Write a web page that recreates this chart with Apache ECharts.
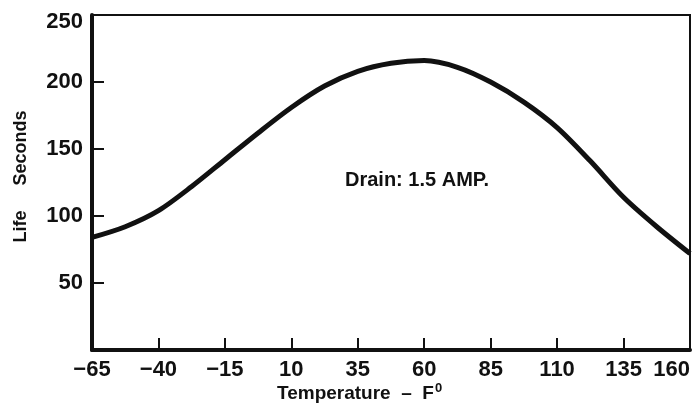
<!DOCTYPE html>
<html>
<head>
<meta charset="utf-8">
<script src="https://cdn.jsdelivr.net/npm/echarts@6/dist/echarts.min.js"></script>
<style>
html,body{margin:0;padding:0;background:#fff;}
#chart{width:693px;height:405px;}
</style>
</head>
<body>
<div id="chart"></div>
<script>
// Data
var temperatures = [-65, -52.5, -40, -27.5, -15, -2.5, 10, 22.5, 35, 47.5, 60, 72.5, 85, 97.5, 110, 122.5, 135, 147.5, 160];
var lifeSeconds  = [84, 92, 104, 122, 142, 162, 181, 197, 208, 214, 216, 211, 200, 185, 166, 141, 114, 92, 72];
var xTickLabels = ['\u221265', '\u221240', '\u221215', '10', '35', '60', '85', '110', '135', '160'];
var yTickLabels = ['0', '50', '100', '150', '200', '250'];
var xMin = -65, xMax = 160, xStep = 25;
var yMin = 0, yMax = 250, yStep = 50;

var FONT = "'Liberation Sans', Arial, sans-serif";
var INK = '#111';

var chart = echarts.init(document.getElementById('chart'), null, {renderer: 'canvas'});
chart.setOption({
  backgroundColor: '#fff',
  animation: false,
  title: {
    text: 'Temperature  \u2013  F{sup|0}',
    left: 277,
    top: 382,
    padding: 0,
    textStyle: {
      fontFamily: FONT, fontSize: 19, fontWeight: 'bold', color: INK,
      rich: {
        sup: {fontFamily: FONT, fontSize: 13, fontWeight: 'bold', color: INK, verticalAlign: 'top', padding: [0, 0, 10, 1]}
      }
    }
  },
  grid: {
    left: 92, right: 1, top: 15, bottom: 55,
    show: true, borderColor: INK, borderWidth: 2, backgroundColor: 'transparent'
  },
  xAxis: {
    type: 'value',
    min: 0, max: xMax - xMin, interval: xStep,
    axisLine: {show: true, onZero: false, lineStyle: {color: INK, width: 4}},
    axisTick: {show: true, inside: true, length: 12, lineStyle: {color: INK, width: 2}},
    splitLine: {show: false},
    axisLabel: {
      margin: 9,
      fontFamily: FONT, fontSize: 22, fontWeight: 'bold', color: INK,
      alignMaxLabel: 'right',
      formatter: function (v) { return xTickLabels[Math.round(v / xStep)]; }
    }
  },
  yAxis: {
    type: 'value',
    min: yMin, max: yMax, interval: yStep,
    name: 'Life     Seconds',
    nameLocation: 'middle',
    nameGap: 62,
    nameRotate: 90,
    nameTextStyle: {fontFamily: FONT, fontSize: 18, fontWeight: 'bold', color: INK, padding: [0, 0, 0, 12]},
    axisLine: {show: true, onZero: false, lineStyle: {color: INK, width: 4}},
    axisTick: {show: true, inside: true, length: 12, lineStyle: {color: INK, width: 2}},
    splitLine: {show: false},
    axisLabel: {
      margin: 9,
      showMinLabel: false,
      fontFamily: FONT, fontSize: 22, fontWeight: 'bold', color: INK,
      formatter: function (v) {
        var s = yTickLabels[Math.round(v / yStep)];
        return v === yMax ? '{top|' + s + '}' : s;
      },
      rich: {
        top: {fontFamily: FONT, fontSize: 22, fontWeight: 'bold', color: INK, padding: [14, 0, 0, 0]}
      }
    }
  },
  graphic: [{
    type: 'text',
    left: 345,
    top: 170,
    style: {text: 'Drain: 1.5 AMP.', fontFamily: FONT, fontSize: 20, fontWeight: 'bold', fill: INK}
  }],
  series: [{
    type: 'line',
    smooth: 0.3,
    showSymbol: false,
    lineStyle: {color: INK, width: 5},
    data: temperatures.map(function (t, i) { return [t - xMin, lifeSeconds[i]]; })
  }]
});
</script>
</body>
</html>
